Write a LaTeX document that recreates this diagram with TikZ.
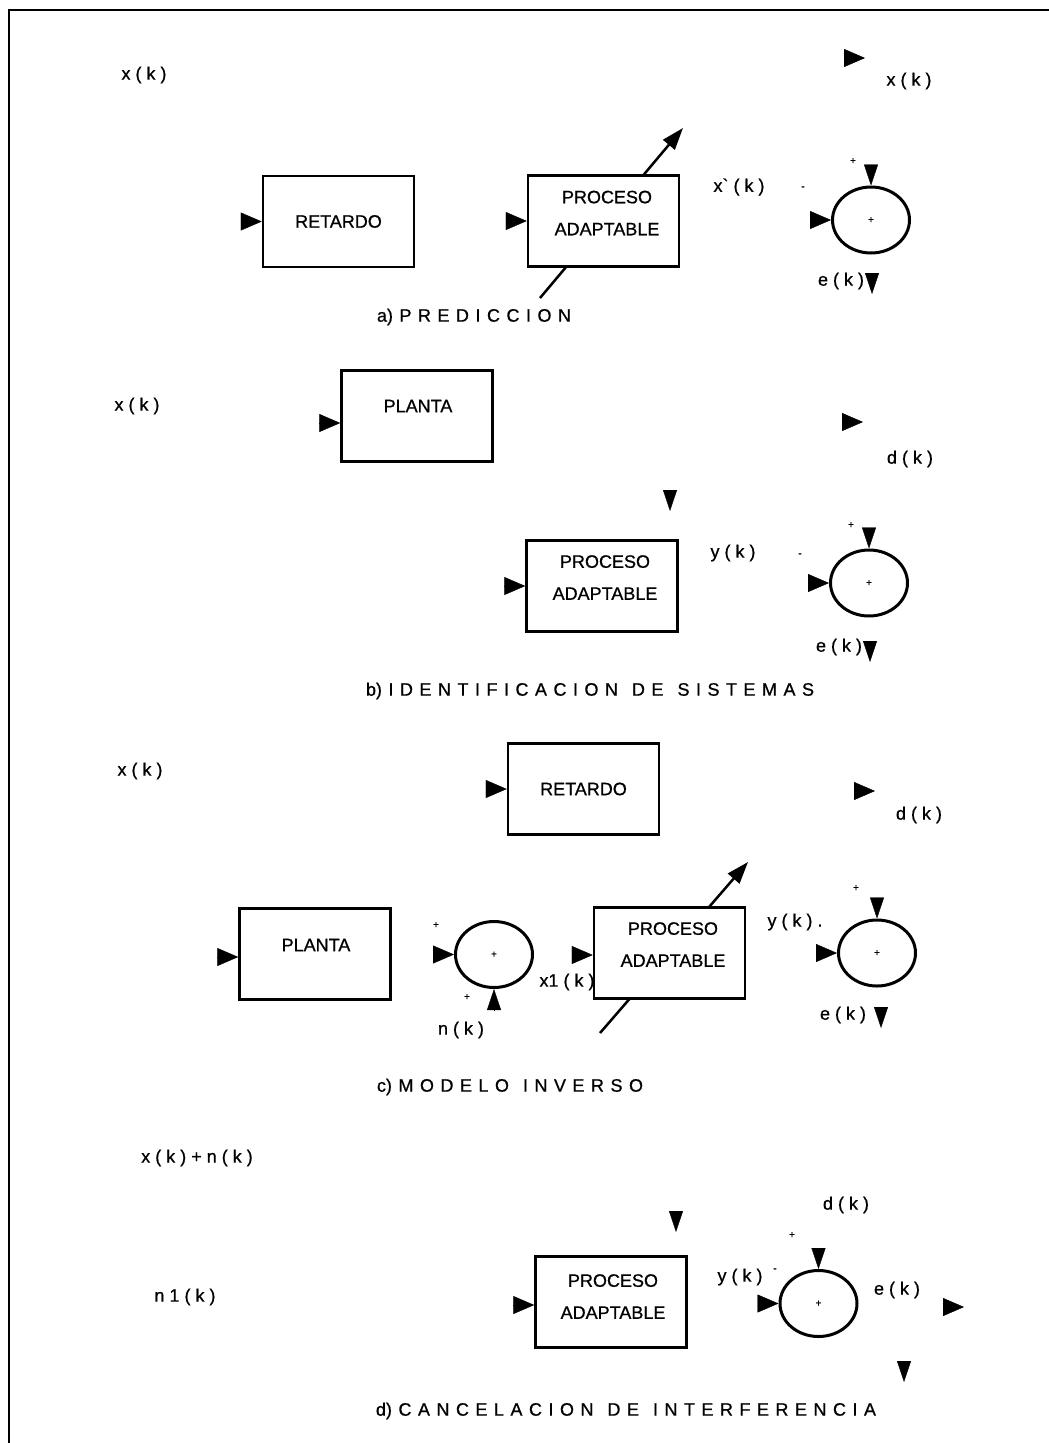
\documentclass[tikz,border=0pt]{standalone}
\usepackage{fontspec}
\setmainfont{Liberation Sans}[FakeBold=0.8]
\newfontfamily\lblfont{Liberation Sans}[FakeBold=0.8]
\newcommand{\capfmt}{\lblfont\fontsize{18}{22}\selectfont\spaceskip 6.5pt\relax}
\newcommand{\wgap}{\hspace{14pt}}
\usetikzlibrary{arrows.meta,shapes.geometric,calc}

\begin{document}
\begin{tikzpicture}[x=1pt, y=-1pt, line width=0.4pt, >={Triangle[length=21pt,width=18pt]}]
\tikzstyle{blk}=[draw, fill=white, line width=2.5pt, minimum width=151pt, minimum height=91pt, inner sep=0pt, font=\lblfont\fontsize{18}{22}\selectfont]
\tikzstyle{sumnode}=[ellipse, draw, fill=white, line width=3pt, minimum width=77pt, minimum height=66pt, inner sep=0pt]
\tikzstyle{txt}=[inner sep=0pt, align=center, font=\lblfont\fontsize{18}{32}\selectfont]
\tikzstyle{sig}=[inner sep=0pt, font=\lblfont\fontsize{18}{22}\selectfont]
\tikzstyle{captxt}=[inner sep=0pt, font=\capfmt]
\tikzstyle{sgn}=[inner sep=0pt, font=\lblfont\fontsize{10}{10}\selectfont]
\tikzstyle{ahead}=[->]
\tikzstyle{aheadv}=[-{Triangle[length=21pt,width=14pt]}]
\tikzstyle{adapt}=[-{Triangle[length=22pt,width=15pt]}, line width=2.5pt]
\useasboundingbox (0,0) rectangle (1049,1443);
\draw[line width=2pt] (9,1443) -- (9,10) -- (1049,10);

% a) prediccion
\node[sig] (xa) at (144,75) {x ( k )};
\coordinate (oxa) at (865,58);
\draw[ahead] ($(oxa)+(-21,0)$) -- (oxa);
\node[sig] (xoa) at (909,81) {x ( k )};
\coordinate (lowa) at (540,298);
\coordinate (higha) at (683,128);
\draw[adapt] (lowa) -- (higha);
\node[blk] (reta) at (338.5,221.5) {RETARDO};
\node[blk] (proca) at (603.5,221) {};
\node[txt] at (607,213) {PROCESO\\ADAPTABLE};
\draw[ahead] ($(reta.west)+(-21,0)$) -- (reta.west);
\draw[ahead] ($(proca.west)+(-21,0)$) -- (proca.west);
\node[sig] (xha) at (739,187) {x` ( k )};
\node[sgn] at (803,188) {-};
\node[sgn] at (853,161) {+};
\node[sumnode] (suma) at (871,220) {};
\node[sgn] at (suma.center) {+};
\draw[ahead] ($(suma.west)+(-21,0)$) -- (suma.west);
\draw[aheadv] ($(suma.north)+(0,-21)$) -- (suma.north);
\node[sig] (ea) at (841,281) {e ( k )};
\coordinate (oea) at (872,294);
\draw[aheadv] ($(oea)+(0,-21)$) -- (oea);
\node[captxt] at (474,317) {a) P R E D I C C I O N};

% b) identificacion
\node[sig] (xb) at (137,406) {x ( k )};
\node[blk] (plantb) at (417,416) {};
\node[txt] at (418,406) {PLANTA};
\draw[ahead] ($(plantb.west)+(-21,7)$) -- ($(plantb.west)+(0,7)$);
\coordinate (odb) at (863,422);
\draw[ahead] ($(odb)+(-21,0)$) -- (odb);
\node[sig] (db) at (910,459) {d ( k )};
\coordinate (ob) at (670,511);
\draw[aheadv] ($(ob)+(0,-21)$) -- (ob);
\node[blk] (procb) at (602,586) {};
\node[txt] at (605,577.5) {PROCESO\\ADAPTABLE};
\draw[ahead] ($(procb.west)+(-21,0)$) -- (procb.west);
\node[sig] (yb) at (733,553) {y ( k )};
\node[sgn] at (800,555) {-};
\node[sgn] at (851,525) {+};
\node[sumnode] (sumb) at (869,583) {};
\node[sgn] at (sumb.center) {+};
\draw[ahead] ($(sumb.west)+(-21,0)$) -- (sumb.west);
\draw[aheadv] ($(sumb.north)+(0,-21)$) -- (sumb.north);
\node[sig] (eb) at (839,647) {e ( k )};
\coordinate (oeb) at (870,662);
\draw[aheadv] ($(oeb)+(0,-21)$) -- (oeb);
\node[captxt] at (590,691) {b) I D E N T I F I C A C I O N\wgap D E\wgap S I S T E M A S};

% c) modelo inverso
\node[sig] (xc) at (140,771) {x ( k )};
\node[blk] (retc) at (583.5,789) {RETARDO};
\draw[ahead] ($(retc.west)+(-21,0)$) -- (retc.west);
\coordinate (odc) at (875,791);
\draw[ahead] ($(odc)+(-21,0)$) -- (odc);
\node[sig] (dc) at (919,815) {d ( k )};
\node[blk] (plantc) at (315,954) {};
\node[txt] at (316,945) {PLANTA};
\draw[ahead] ($(plantc.west)+(-21,3)$) -- ($(plantc.west)+(0,3)$);
\node[sgn] at (436,925) {+};
\node[sumnode] (sumc) at (494,954.5) {};
\node[sgn] at (sumc.center) {+};
\draw[ahead] ($(sumc.west)+(-21,0)$) -- (sumc.west);
\draw[aheadv] ($(sumc.south)+(0,21)$) -- (sumc.south);
\node[sgn] at (467,997) {+};
\node[sig] (nc) at (461,1030) {n ( k )};
\node[sig] (x1c) at (567,982) {x1 ( k )};
\coordinate (lowc) at (600,1033);
\coordinate (highc) at (748,862);
\draw[adapt] (lowc) -- (highc);
\node[blk] (procc) at (669.5,953) {};
\node[txt] at (673,944.5) {PROCESO\\ADAPTABLE};
\draw[ahead] ($(procc.west)+(-21,2)$) -- ($(procc.west)+(0,2)$);
\node[sig] (yc) at (795,922) {y ( k ) .};
\node[sgn] at (856,888) {+};
\node[sumnode] (sumc2) at (877,953) {};
\node[sgn] at (sumc2.center) {+};
\draw[ahead] ($(sumc2.west)+(-21,0)$) -- (sumc2.west);
\draw[aheadv] ($(sumc2.north)+(0,-21)$) -- (sumc2.north);
\node[sig] (ec) at (843,1015) {e ( k )};
\coordinate (oec) at (881,1028);
\draw[aheadv] ($(oec)+(0,-21)$) -- (oec);
\node[captxt] at (510,1087) {c) M O D E L O\wgap I N V E R S O};

% d) cancelacion
\node[sig] (xnd) at (197,1158) {x ( k ) + n ( k )};
\coordinate (odd) at (676,1232);
\draw[aheadv] ($(odd)+(0,-21)$) -- (odd);
\node[sig] (dd) at (846,1205) {d ( k )};
\node[sgn] at (792,1235) {+};
\node[sig] (n1d) at (185,1297) {n 1 ( k )};
\node[blk] (procd) at (611,1302) {};
\node[txt] at (613,1296.5) {PROCESO\\ADAPTABLE};
\draw[ahead] ($(procd.west)+(-21,3)$) -- ($(procd.west)+(0,3)$);
\node[sig] (yd) at (740,1277) {y ( k )};
\node[sgn] at (775,1270) {-};
\node[sumnode] (sumd) at (818.5,1303.5) {};
\node[sgn] at (sumd.center) {+};
\draw[ahead] ($(sumd.west)+(-21,0)$) -- (sumd.west);
\draw[aheadv] ($(sumd.north)+(0,-21)$) -- (sumd.north);
\node[sig] (ed) at (897,1290) {e ( k )};
\coordinate (oed) at (964,1307);
\draw[ahead] ($(oed)+(-21,0)$) -- (oed);
\coordinate (ood) at (904,1382);
\draw[aheadv] ($(ood)+(0,-21)$) -- (ood);
\node[captxt] at (626,1411) {d) C A N C E L A C I O N\wgap D E\wgap I N T E R F E R E N C I A};
\end{tikzpicture}
\end{document}
